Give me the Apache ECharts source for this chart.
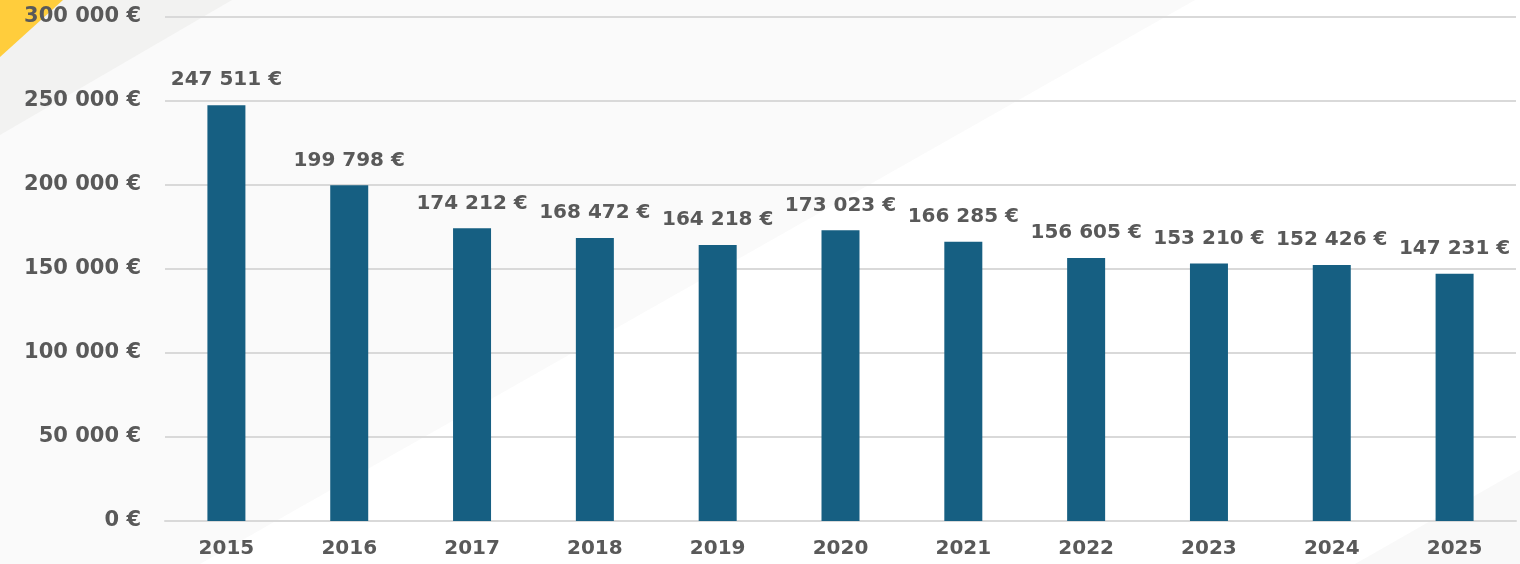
<!DOCTYPE html>
<html>
<head>
<meta charset="utf-8">
<script src="https://cdn.jsdelivr.net/npm/echarts@6/dist/echarts.min.js"></script>
<style>html,body{margin:0;padding:0;background:#fff}#c{width:1520px;height:564px}</style>
</head>
<body>
<div id="c"></div>
<script>
const years = ['2015','2016','2017','2018','2019','2020','2021','2022','2023','2024','2025'];
const values = [247511,199798,174212,168472,164218,173023,166285,156605,153210,152426,147231];
const yTicks = [0,50000,100000,150000,200000,250000,300000];

function fmt(v){ return String(v).replace(/\B(?=(\d{3})+(?!\d))/g,' ') + ' €'; }

const chart = echarts.init(document.getElementById('c'));
const font = '"DejaVu Sans", sans-serif';
chart.setOption({
  backgroundColor:'#ffffff',
  animation:false,
  graphic:[
    {type:'polygon', z:-10, shape:{points:[[0,0],[1195,0],[200,564],[0,564]]}, style:{fill:'#fafafa'}},
    {type:'polygon', z:-9, shape:{points:[[0,0],[232,0],[0,135]]}, style:{fill:'#f2f2f1'}},
    {type:'polygon', z:-8, shape:{points:[[0,0],[63,0],[0,57]]}, style:{fill:'#ffcd3c'}},
    {type:'polygon', z:-10, shape:{points:[[1520,470],[1520,564],[1355,564]]}, style:{fill:'#f9f9f9'}}
  ],
  grid:{left:165,right:4,top:17,bottom:43,containLabel:false},
  xAxis:{
    type:'category', data:years,
    axisLine:{show:true,lineStyle:{color:'#d9d9d9',width:2}},
    axisTick:{show:false},
    axisLabel:{color:'#595959',fontWeight:'bold',fontSize:20,fontFamily:font,margin:18}
  },
  yAxis:{
    type:'value', min:yTicks[0], max:yTicks[yTicks.length-1], interval:50000,
    axisLine:{show:false}, axisTick:{show:false},
    splitLine:{lineStyle:{color:'#d9d9d9',width:2}},
    axisLabel:{color:'#595959',fontWeight:'bold',fontSize:21,fontFamily:font,margin:24,formatter:fmt}
  },
  series:[{
    type:'bar', data:values, barWidth:38,
    itemStyle:{color:'#165f82'},
    label:{show:true,position:'top',distance:15,color:'#595959',fontWeight:'bold',fontSize:20,fontFamily:font,formatter:p=>fmt(p.value)}
  }]
});
</script>
</body>
</html>
